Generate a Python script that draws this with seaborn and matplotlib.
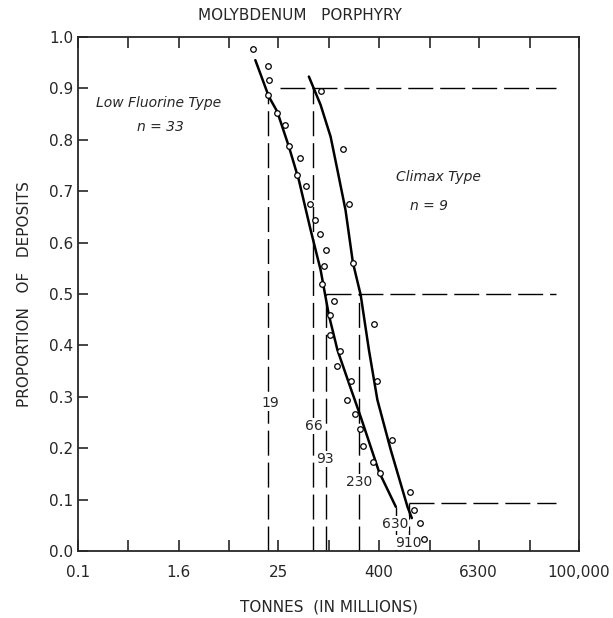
import matplotlib
matplotlib.use("Agg")
import matplotlib.pyplot as plt
from matplotlib.ticker import NullFormatter
import seaborn as sns
import pandas as pd

# observed deposits (tonnes in millions, cumulative proportion)
low_x = [12.4, 18.9, 19.6, 19.1, 24.3, 30.5, 34.1, 46.2, 42.2, 53.1, 59.8, 68.1,
         78.2, 93.1, 88.1, 84.3, 116, 103, 104, 137, 128, 186, 165, 206, 236,
         262, 341, 411, 949, 1060, 1250, 1396]
low_y = [0.977, 0.944, 0.916, 0.887, 0.853, 0.829, 0.787, 0.764, 0.732, 0.710,
         0.676, 0.644, 0.617, 0.586, 0.555, 0.519, 0.486, 0.459, 0.420, 0.389,
         0.359, 0.331, 0.294, 0.266, 0.237, 0.205, 0.174, 0.152, 0.115, 0.080,
         0.054, 0.023]
climax_x = [80.4, 151, 176, 199, 351, 381, 583]
climax_y = [0.895, 0.783, 0.676, 0.561, 0.441, 0.331, 0.215]

# fitted curves
low_fit_x = [13.3, 19.3, 24.3, 33.5, 44.1, 61, 80.4, 101, 128, 176, 243, 403, 640]
low_fit_y = [0.955, 0.884, 0.855, 0.787, 0.722, 0.625, 0.547, 0.459, 0.391,
             0.326, 0.261, 0.154, 0.086]
climax_fit_x = [58.2, 80.4, 106, 128, 160, 196, 243, 305, 385, 556, 883, 995]
climax_fit_y = [0.923, 0.868, 0.806, 0.741, 0.663, 0.561, 0.498, 0.391, 0.294,
                0.197, 0.086, 0.064]

# percentile markers (90th, 50th, 10th)
pct_levels = [0.9, 0.5, 0.093]
pct_start = [26.6, 93, 910]
low_pct = [19, 93, 640]
low_pct_top = [0.885, 0.5, 0.086]
climax_pct = [66, 230, 910]
climax_pct_top = [0.9, 0.5, 0.093]
pct_labels = ["19", "66", "93", "230", "630", "910"]
pct_label_x = [20, 66, 90, 230, 630, 910]
pct_label_y = [0.288, 0.243, 0.179, 0.135, 0.053, 0.016]

x_ticks = [0.1, 1.6, 25, 400, 6300, 100000]
x_tick_labels = ["0.1", "1.6", "25", "400", "6300", "100,000"]
x_minor = [0.4, 6.4, 102.4, 1638.4, 26214.4]
y_ticks = [i / 10 for i in range(11)]

sns.set_style("ticks")
plt.rcParams['font.family'] = ['DejaVu Sans']

fig = plt.figure(figsize=(6.13, 6.18), dpi=100)
ax = fig.add_axes([78 / 613, 67 / 618, 501 / 613, 514 / 618])

pts = pd.DataFrame({"x": low_x + climax_x, "y": low_y + climax_y})
sns.scatterplot(data=pts, x="x", y="y", ax=ax, marker="o", s=16,
                facecolor="white", edgecolor="black", linewidth=0.9, zorder=4)

low_df = pd.DataFrame({"x": low_fit_x, "y": low_fit_y})
cl_df = pd.DataFrame({"x": climax_fit_x, "y": climax_fit_y})
sns.lineplot(data=low_df, x="x", y="y", ax=ax, color="black", lw=1.8,
             sort=False, estimator=None, zorder=3)
sns.lineplot(data=cl_df, x="x", y="y", ax=ax, color="black", lw=1.8,
             sort=False, estimator=None, zorder=3)

dash = (0, (18, 5))
for lvl, st in zip(pct_levels, pct_start):
    ax.plot([st, 53000], [lvl, lvl], color="black", lw=1.0, linestyle=dash)
for xv, top in zip(low_pct + climax_pct, low_pct_top + climax_pct_top):
    ax.plot([xv, xv], [0, top], color="black", lw=1.0, linestyle=dash)

for lab, xv, yv in zip(pct_labels, pct_label_x, pct_label_y):
    ax.text(xv, yv, lab, ha="center", va="center", fontsize=10, zorder=3.5,
            bbox=dict(facecolor="white", edgecolor="none", pad=0.5))

ax.text(0.16, 0.872, "Low Fluorine Type", transform=ax.transAxes,
        ha="center", va="center", fontsize=10, style="italic")
ax.text(0.165, 0.825, "n = 33", transform=ax.transAxes,
        ha="center", va="center", fontsize=10, style="italic")
ax.text(0.72, 0.728, "Climax Type", transform=ax.transAxes,
        ha="center", va="center", fontsize=10, style="italic")
ax.text(0.70, 0.672, "n = 9", transform=ax.transAxes,
        ha="center", va="center", fontsize=10, style="italic")

ax.set_xscale("log")
ax.set_xlim(0.1, 100000)
ax.set_ylim(0, 1)
ax.set_xticks(x_ticks)
ax.set_xticklabels(x_tick_labels)
ax.set_xticks(x_minor, minor=True)
ax.xaxis.set_minor_formatter(NullFormatter())
ax.set_yticks(y_ticks)
ax.set_yticklabels([f"{v:.1f}" for v in y_ticks])
ax.tick_params(axis="x", which="both", direction="in", top=True, length=8,
               width=1.2, labelsize=11, pad=10)
ax.tick_params(axis="y", direction="in", length=7, width=1.2, labelsize=11)
for s in ax.spines.values():
    s.set_linewidth(1.3)

ax.set_xlabel("TONNES  (IN MILLIONS)", fontsize=11, labelpad=14)
ax.set_ylabel("PROPORTION   OF   DEPOSITS", fontsize=11, labelpad=12)
fig.text(0.49, 0.975, "MOLYBDENUM   PORPHYRY", ha="center", va="center", fontsize=11)

fig.savefig("out.png", dpi=100)
